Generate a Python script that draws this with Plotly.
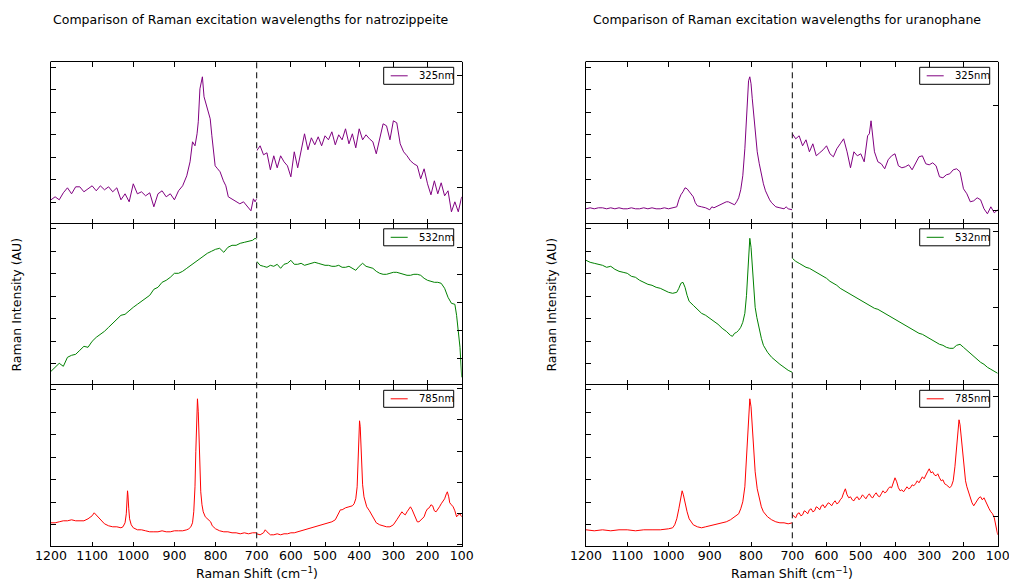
import plotly.graph_objects as go

# ---------------- data (Raman shift cm^-1, intensity in arbitrary units) ----------------
# natrozippeite
N325_LEFT = [(1200,24),(1190,27),(1180,24),(1170,31),(1160,36),(1150,30),(1140,37),(1130,37),(1120,32),
             (1110,35),(1100,38),(1090,33),(1080,38),(1070,34),(1060,37),(1050,32),(1040,36),(1030,24),
             (1020,30),(1010,22),(1000,40),(990,30),(980,32),(970,28),(960,31),(950,17),(940,30),(930,33),
             (920,27),(910,30),(900,24),(890,33),(880,38),(870,48),(862,62),(856,82),(850,78),(845,90),
             (842,102),(838,135),(832,147),(828,127),(822,118),(817,110),(813,105),(809,88),(805,72),
             (801,58),(795,55),(789,52),(781,43),(775,38),(769,27),(760,25),(750,22),(741,20),(732,22),
             (724,18),(716,15),(714,13),(708,25),(704,22),(700,25)]
N325_RIGHT = [(700,73),(690,78),(680,69),(670,71),(660,54),(650,68),(640,56),(630,68),(620,62),(610,58),
              (600,47),(590,72),(580,56),(570,72),(560,90),(550,74),(540,86),(530,79),(520,87),(510,78),
              (500,88),(490,84),(480,92),(470,79),(460,89),(450,84),(440,95),(430,80),(420,90),(410,76),
              (400,95),(390,84),(380,89),(370,85),(360,82),(350,70),(340,84),(330,100),(320,98),(310,84),
              (300,103),(290,101),(280,80),(270,72),(260,68),(250,63),(240,60),(230,58),(220,45),(210,55),
              (200,40),(190,29),(180,43),(170,30),(160,41),(150,28),(140,33),(130,12),(120,22),(110,12),
              (100,27)]
N532_LEFT = [(1200,14),(1190,18),(1180,22),(1170,19),(1160,28),(1150,30),(1140,31),(1130,35),(1120,39),
             (1110,38),(1100,44),(1090,48),(1080,51),(1070,54),(1060,58),(1050,62),(1040,67),(1030,70),
             (1020,71),(1010,75),(1000,78),(990,81),(980,84),(970,87),(960,90),(950,96),(940,98),(930,103),
             (920,105),(910,108),(900,112),(890,112),(880,114),(870,117),(860,120),(850,123),(840,126),
             (830,129),(820,132),(810,134),(800,136),(790,137),(780,133),(770,138),(760,140),(750,140),
             (740,142),(730,143),(720,144),(710,145),(704,147),(700,146)]
N532_RIGHT = [(700,124),(690,120),(680,119),(670,118),(660,120),(650,119),(640,121),(630,117),(620,121),
              (610,122),(600,125),(590,121),(580,121),(570,122),(560,120),(550,121),(540,122),(530,123),
              (520,122),(510,121),(500,120),(490,120),(480,119),(470,119),(460,120),(450,118),(440,118),
              (430,119),(420,117),(410,115),(400,119),(390,122),(380,119),(370,118),(360,117),(350,114),
              (340,112),(330,111),(320,111),(310,112),(300,113),(290,113),(280,112),(270,111),(260,110),
              (250,110),(240,111),(230,111),(220,110),(210,107),(200,105),(190,104),(180,103),(170,103),
              (160,102),(150,97),(140,88),(130,82),(120,81),(115,70),(110,55),(105,38),(100,8)]
N785_LEFT = [(1200,24),(1190,24),(1180,25),(1170,26),(1160,26),(1150,27),(1140,26),(1130,26),(1120,26),
             (1110,28),(1100,31),(1095,34),(1090,32),(1080,28),(1070,23),(1060,21),(1050,20),(1040,20),
             (1030,19),(1025,20),(1020,24),(1017,33),(1015,50),(1014,56),(1013,52),(1011,38),(1009,28),
             (1005,22),(1000,19),(990,17),(980,17),(970,16),(960,15),(950,15),(940,15),(930,16),(920,15),
             (910,15),(900,16),(890,16),(880,16),(870,17),(865,18),(860,20),(856,24),(853,35),(850,60),
             (848,95),(846,130),(844,148),(842,135),(840,110),(838,75),(836,55),(833,42),(830,35),(825,30),
             (820,28),(815,27),(812,25),(808,21),(800,18),(790,16),(780,15),(770,15),(760,14),(750,14),
             (740,13),(730,14),(720,13),(710,14),(700,14)]
N785_RIGHT = [(700,13),(690,12),(680,14),(675,17),(670,15),(660,12),(650,12),(640,13),(630,12),(620,13),
              (610,13),(600,14),(590,14),(580,15),(570,16),(560,17),(550,18),(540,19),(530,20),(520,21),
              (510,22),(500,23),(490,24),(480,25),(470,27),(460,33),(455,37),(450,37),(440,39),(430,40),
              (420,41),(415,43),(410,48),(406,60),(403,90),(401,115),(399,126),(397,120),(395,100),
              (392,78),(390,62),(386,50),(382,44),(378,40),(370,36),(360,30),(350,24),(340,22),(330,21),
              (320,20),(310,20),(300,22),(290,27),(280,33),(275,35),(270,33),(265,32),(260,35),(255,38),
              (250,40),(245,37),(240,33),(235,28),(230,25),(225,25),(220,27),(210,30),(205,35),(200,38),
              (195,39),(190,42),(185,41),(180,36),(175,35),(170,37),(165,40),(160,43),(155,46),(150,48),
              (145,53),(142,55),(138,50),(135,44),(130,42),(125,40),(120,36),(115,30),(110,32),(105,33),
              (100,30)]
# uranophane
U325_LEFT = [(1200,15),(1190,16),(1180,15),(1170,16),(1160,16),(1150,15),(1140,16),(1130,15),(1120,16),
             (1110,15),(1100,15),(1090,16),(1080,15),(1070,15),(1060,16),(1050,15),(1040,16),(1030,15),
             (1020,15),(1010,16),(1000,15),(990,16),(980,17),(975,24),(970,29),(965,32),(960,36),(955,35),
             (950,32),(945,29),(940,27),(935,21),(930,18),(920,17),(910,16),(900,14),(895,17),(890,16),
             (880,18),(870,20),(860,22),(855,22),(850,21),(840,19),(835,22),(830,26),(825,34),(820,48),
             (815,75),(812,100),(809,130),(806,143),(803,147),(800,140),(797,125),(793,105),(790,90),
             (785,72),(780,60),(775,48),(770,40),(765,33),(760,28),(755,24),(750,21),(740,17),(730,16),
             (720,15),(715,17),(710,15),(700,14)]
U325_RIGHT = [(700,90),(690,85),(680,88),(670,78),(660,84),(650,72),(640,80),(630,68),(620,71),(610,74),
              (600,78),(590,70),(580,67),(570,75),(560,80),(550,85),(540,72),(530,56),(520,72),(510,68),
              (500,70),(490,62),(480,88),(475,90),(470,103),(465,88),(460,72),(450,62),(440,60),(430,55),
              (420,64),(410,68),(400,70),(390,58),(380,56),(370,57),(360,59),(350,54),(340,60),(330,67),
              (320,68),(310,60),(300,59),(290,61),(280,58),(270,47),(260,46),(250,49),(240,50),(230,54),
              (220,55),(210,52),(200,35),(190,30),(180,22),(170,23),(160,26),(150,24),(140,15),(130,10),
              (120,17),(110,11),(100,14)]
U532_LEFT = [(1200,125),(1190,123),(1180,122),(1170,121),(1160,120),(1150,118),(1140,119),(1130,116),
             (1120,114),(1110,113),(1100,112),(1090,109),(1080,108),(1070,105),(1060,103),(1050,101),
             (1040,100),(1030,98),(1020,97),(1010,95),(1000,93),(990,92),(980,93),(975,97),(970,102),
             (965,103),(960,98),(955,90),(950,84),(940,80),(930,76),(920,72),(910,70),(900,67),(890,64),
             (880,61),(870,57),(860,54),(850,50),(845,49),(840,52),(835,53),(830,55),(825,58),(820,63),
             (815,72),(811,90),(808,115),(805,140),(803,147),(800,138),(797,118),(794,95),(790,78),
             (786,68),(780,55),(775,47),(770,40),(760,33),(750,28),(740,24),(730,21),(720,18),(710,15),
             (700,13)]
U532_RIGHT = [(700,127),(690,124),(680,122),(670,120),(660,118),(650,117),(640,115),(630,113),(620,111),
              (610,109),(600,107),(590,104),(580,102),(570,100),(560,97),(550,95),(540,93),(530,91),
              (520,89),(510,87),(500,85),(490,83),(480,81),(470,79),(460,77),(450,76),(440,74),(430,72),
              (420,70),(410,68),(400,66),(390,64),(380,62),(370,60),(360,58),(350,56),(340,54),(330,52),
              (320,51),(310,49),(300,47),(290,45),(280,43),(270,41),(260,40),(250,38),(240,37),(230,37),
              (220,40),(210,41),(200,38),(190,35),(180,32),(170,29),(160,26),(150,23),(140,21),(130,18),
              (120,16),(110,14),(100,12)]
U785_LEFT = [(1200,17),(1180,16),(1160,17),(1140,16),(1120,17),(1100,17),(1080,16),(1060,17),(1040,17),
             (1020,17),(1000,18),(990,19),(985,22),(980,28),(975,38),(970,50),(967,56),(964,52),(960,44),
             (955,35),(950,28),(940,22),(930,20),(920,19),(910,20),(900,21),(890,22),(880,23),(870,24),
             (860,25),(850,27),(840,30),(830,33),(825,38),(820,45),(815,60),(811,90),(808,120),(805,142),
             (803,148),(800,140),(797,120),(794,95),(790,75),(785,58),(780,48),(775,40),(770,35),(760,30),
             (750,27),(740,25),(730,24),(720,24),(710,23),(700,24)]
U785_RIGHT = [(700,32),(695,30),(690,29),(685,33),(680,34),(675,31),(670,32),(665,36),(660,35),(655,33),
              (650,37),(645,38),(640,35),(635,36),(630,40),(625,39),(620,37),(615,41),(610,42),(605,39),
              (600,41),(595,44),(590,43),(585,41),(580,44),(575,46),(570,43),(565,44),(560,47),(555,49),
              (550,54),(545,58),(540,52),(535,49),(530,50),(525,47),(520,46),(515,49),(510,50),(505,47),
              (500,49),(495,52),(490,50),(485,48),(480,51),(475,53),(470,50),(465,49),(460,52),(455,54),
              (450,51),(445,50),(440,53),(435,56),(430,54),(425,55),(420,58),(415,60),(410,59),(405,64),
              (400,69),(395,65),(390,59),(385,56),(380,57),(375,55),(370,57),(365,60),(360,58),(355,59),
              (350,62),(345,61),(340,63),(335,66),(330,64),(325,67),(320,70),(315,68),(310,72),(305,75),
              (300,78),(295,74),(290,75),(285,72),(280,71),(275,73),(270,69),(265,66),(260,67),(255,63),
              (250,62),(245,60),(240,59),(235,61),(230,66),(225,80),(220,100),(216,118),(213,127),
              (210,122),(206,108),(202,90),(198,75),(194,66),(190,60),(185,54),(180,48),(175,44),(170,41),
              (165,44),(160,46),(155,49),(150,50),(145,47),(140,49),(135,45),(130,41),(125,38),(120,35),
              (115,33),(110,29),(105,22),(100,12)]

MINERALS = ["natrozippeite", "uranophane"]
LASERS = ["325nm", "532nm", "785nm"]
COLORS = ["purple", "green", "red"]
SPECTRA = {
    ("natrozippeite", "325nm"): (N325_LEFT, N325_RIGHT),
    ("natrozippeite", "532nm"): (N532_LEFT, N532_RIGHT),
    ("natrozippeite", "785nm"): (N785_LEFT, N785_RIGHT),
    ("uranophane", "325nm"): (U325_LEFT, U325_RIGHT),
    ("uranophane", "532nm"): (U532_LEFT, U532_RIGHT),
    ("uranophane", "785nm"): (U785_LEFT, U785_RIGHT),
}
LEFT_TICKS = [1200, 1100, 1000, 900, 800, 700]
RIGHT_TICKS = [600, 500, 400, 300, 200, 100]
# y tick marks (no labels) for the left-hand and right-hand intensity axes of each panel
YTICKS = {
    ("natrozippeite", 0, 0): [21.6, 44.1, 66.6, 89.1, 111.6, 134.1, 156.6],
    ("natrozippeite", 0, 1): [36.6, 73.8, 111.0, 148.2],
    ("natrozippeite", 1, 0): [21.7, 44.2, 66.7, 89.2, 111.7, 134.2, 156.7],
    ("natrozippeite", 1, 1): [27.3, 55.0, 82.7, 110.4, 138.1],
    ("natrozippeite", 2, 0): [21.9, 44.4, 66.9, 89.4, 111.9, 134.4, 156.9],
    ("natrozippeite", 2, 1): [2.2, 33.4, 64.6, 95.8, 127.0, 158.2],
    ("uranophane", 0, 0): [21.6, 44.1, 66.6, 89.1, 111.6, 134.1, 156.6],
    ("uranophane", 0, 1): [13.3, 118.3],
    ("uranophane", 1, 0): [21.7, 44.2, 66.7, 89.2, 111.7, 134.2, 156.7],
    ("uranophane", 1, 1): [40.0, 78.0, 116.0, 154.0],
    ("uranophane", 2, 0): [21.9, 44.4, 66.9, 89.4, 111.9, 134.4, 156.9],
    ("uranophane", 2, 1): [30.0, 70.0, 110.0, 150.0],
}

# ---------------- layout geometry (pixels) ----------------
W, H = 1009, 581
PLOT_X = [(51.0, 256.7, 461.7), (586.0, 792.3, 997.7)]
ROW_TOP = 62.3
ROW_H = 161.5
FONT = "DejaVu Sans"
FS = 12.5        # title / tick / axis-label size
FS_LEG = 10.0    # legend size


def fx(x):
    return x / W


def fy(y):
    return 1 - y / H


fig = go.Figure()
layout = dict(
    width=W, height=H, margin=dict(l=0, r=0, t=0, b=0, autoexpand=False),
    paper_bgcolor="white", plot_bgcolor="white", showlegend=False,
    font=dict(family=FONT, size=FS, color="black"),
    shapes=[], annotations=[],
)

for m, mineral in enumerate(MINERALS):
    x0, xm, x1 = PLOT_X[m]
    for r, laser in enumerate(LASERS):
        top = ROW_TOP + r * ROW_H
        bot = top + ROW_H
        for h in range(2):
            idx = m * 6 + r * 2 + h + 1
            xs = "x" if idx == 1 else f"x{idx}"
            ys = "y" if idx == 1 else f"y{idx}"
            xa = "xaxis" if idx == 1 else f"xaxis{idx}"
            ya = "yaxis" if idx == 1 else f"yaxis{idx}"
            seg = SPECTRA[(mineral, laser)][h]
            fig.add_trace(go.Scatter(
                x=[p[0] for p in seg], y=[p[1] for p in seg],
                mode="lines", line=dict(color=COLORS[r], width=1),
                name=laser, xaxis=xs, yaxis=ys, hoverinfo="skip",
            ))
            if h == 0:
                dom = [fx(x0), fx(xm)]
                rng = [1200, 700]
                tv = LEFT_TICKS
            else:
                dom = [fx(xm), fx(x1)]
                rng = [700, 100]
                tv = RIGHT_TICKS
            layout[xa] = dict(
                domain=dom, range=rng, anchor=ys, tickmode="array", tickvals=tv,
                ticktext=[str(v) for v in tv], ticklabeloverflow="allow",
                showticklabels=(r == 2), ticks="inside", ticklen=5, tickwidth=1, tickcolor="black",
                showline=False, mirror="ticks",
                showgrid=False, zeroline=False, tickfont=dict(family=FONT, size=FS, color="black"),
            )
            layout[ya] = dict(
                domain=[fy(bot), fy(top)], range=[0, ROW_H], anchor=xs,
                side="left" if h == 0 else "right",
                tickmode="array", tickvals=YTICKS[(mineral, r, h)], showticklabels=False,
                ticks="inside", ticklen=5, tickwidth=1, tickcolor="black",
                showline=True, linecolor="black", linewidth=1, mirror=False,
                showgrid=False, zeroline=False,
            )
        # legend box (matplotlib-style) in the top-right corner of the panel
        bx1 = x1 - 8
        bx0 = bx1 - 70
        by0 = top + 5
        by1 = by0 + 17
        layout["shapes"].append(dict(
            type="rect", xref="paper", yref="paper", x0=fx(bx0), x1=fx(bx1), y0=fy(by1), y1=fy(by0),
            line=dict(color="black", width=1), fillcolor="white", layer="above",
        ))
        layout["shapes"].append(dict(
            type="line", xref="paper", yref="paper", x0=fx(bx0 + 7), x1=fx(bx0 + 24),
            y0=fy((by0 + by1) / 2), y1=fy((by0 + by1) / 2), layer="above",
            line=dict(color=COLORS[r], width=1),
        ))
        layout["annotations"].append(dict(
            text=laser, xref="paper", yref="paper", x=fx(bx0 + 33), y=fy((by0 + by1) / 2),
            xanchor="left", yanchor="middle", showarrow=False,
            font=dict(family=FONT, size=FS_LEG, color="black"),
        ))
    # horizontal frame lines (top, row boundaries, bottom), one crisp pixel each
    for k in range(4):
        yl = round(ROW_TOP + k * ROW_H) - 0.5
        layout["shapes"].append(dict(
            type="line", xref="paper", yref="paper", x0=fx(x0 - 0.5), x1=fx(x1 + 0.5),
            y0=fy(yl), y1=fy(yl), layer="above", line=dict(color="black", width=1),
        ))
    # dashed divider at 700 cm^-1
    layout["shapes"].append(dict(
        type="line", xref="paper", yref="paper", x0=fx(xm), x1=fx(xm),
        y0=fy(ROW_TOP), y1=fy(ROW_TOP + 3 * ROW_H), layer="above",
        line=dict(color="black", width=1, dash="6px,4px"),
    ))
    # title
    layout["annotations"].append(dict(
        text=f"Comparison of Raman excitation wavelengths for {mineral}",
        xref="paper", yref="paper", x=fx((x0 + x1) / 2 - 5), y=fy(19),
        xanchor="center", yanchor="middle", showarrow=False,
        font=dict(family=FONT, size=FS, color="black"),
    ))
    # axis titles
    layout["annotations"].append(dict(
        text="Raman Shift (cm<sup>\u22121</sup>)", xref="paper", yref="paper",
        x=fx(xm), y=fy(573), xanchor="center", yanchor="middle", showarrow=False,
        font=dict(family=FONT, size=FS, color="black"),
    ))
    layout["annotations"].append(dict(
        text="Raman Intensity (AU)", xref="paper", yref="paper",
        x=fx(x0 - 34), y=fy(ROW_TOP + 1.5 * ROW_H), textangle=-90,
        xanchor="center", yanchor="middle", showarrow=False,
        font=dict(family=FONT, size=FS, color="black"),
    ))

fig.update_layout(**layout)
fig.write_html(
    "out.html",
    config={"displayModeBar": False},
    post_script="document.body.style.margin='0px';document.body.style.overflow='hidden';",
)
